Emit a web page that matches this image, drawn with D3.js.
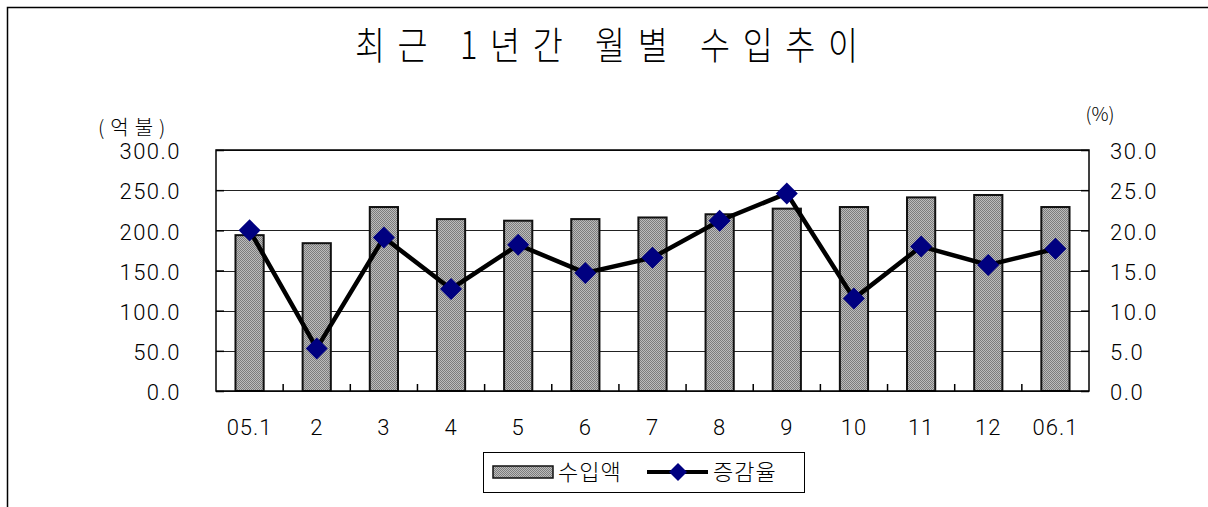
<!DOCTYPE html>
<html><head><meta charset="utf-8">
<script src="https://cdn.jsdelivr.net/npm/d3@7"></script>
<style>body{margin:0;background:#fff;} svg{display:block}</style>
</head><body><svg id="c" width="1208" height="507"></svg>
<script>
const categories = ["05.1","2","3","4","5","6","7","8","9","10","11","12","06.1"];
const importValues = [194,184,229,214,212,214,216,220,227,229,241,244,229];
const growthRates = [20.0,5.3,19.1,12.7,18.2,14.7,16.6,21.2,24.6,11.5,18.0,15.7,17.7];
const leftTicks = [0,50,100,150,200,250,300];
const rightTicks = [0,5,10,15,20,25,30];
const titleText = "최근 1년간 월별 수입추이";
const leftUnit = "(억불)";
const rightUnit = "(%)";
const seriesNames = ["수입액","증감율"];

const KR = "'Noto Sans CJK KR', sans-serif";
const NUM = "Roboto, 'Liberation Sans', Arial, sans-serif";
const svg = d3.select("#c");
const m = {l:216, r:1089, t:150, b:391};
const x = d3.scaleBand().domain(categories).range([m.l, m.r]).paddingInner(0).paddingOuter(0);
const yL = d3.scaleLinear().domain([0,300]).range([m.b, m.t]);
const yR = d3.scaleLinear().domain([0,30]).range([m.b, m.t]);

// pattern
const defs = svg.append("defs");
const pat = defs.append("pattern").attr("id","dots").attr("width",2).attr("height",2).attr("patternUnits","userSpaceOnUse");
pat.append("rect").attr("width",2).attr("height",2).attr("fill","#bcbcbc");
pat.append("rect").attr("x",0).attr("y",0).attr("width",1).attr("height",1).attr("fill","#7c7c7c");
pat.append("rect").attr("x",1).attr("y",1).attr("width",1).attr("height",1).attr("fill","#7c7c7c");

// outer border
svg.append("path").attr("d","M7.5,510 L7.5,7.5 L1210,7.5").attr("fill","none").attr("stroke","#000").attr("stroke-width",1.5);

// title (condensed glyphs, spread across the measured width)
svg.append("text").attr("transform","translate(355,59) scale(0.86,1)").attr("x",0).attr("y",0)
  .attr("textLength",503/0.86).attr("lengthAdjust","spacing")
  .attr("font-family",KR).attr("font-size",38).attr("font-weight",300).attr("fill","#000").text(titleText);

// gridlines
const gridAxis = d3.axisLeft(yL).tickValues(leftTicks).tickSize(-(m.r-m.l)).tickFormat("");
const gg = svg.append("g").attr("transform",`translate(${m.l},0)`).call(gridAxis);
gg.select(".domain").remove();
gg.selectAll("line").attr("stroke","#222").attr("stroke-width",1).attr("shape-rendering","crispEdges");

// bars
const bw = x.bandwidth()*0.42;
svg.append("g").selectAll("rect").data(categories).join("rect")
  .attr("x",(d)=>x(d)+(x.bandwidth()-bw)/2)
  .attr("y",(d,i)=>yL(importValues[i]))
  .attr("width",bw)
  .attr("height",(d,i)=>m.b-yL(importValues[i]))
  .attr("fill","url(#dots)").attr("stroke","#111").attr("stroke-width",2);

// plot border
svg.append("rect").attr("x",m.l).attr("y",m.t).attr("width",m.r-m.l).attr("height",m.b-m.t)
  .attr("fill","none").attr("stroke","#000").attr("stroke-width",1.5);

// bottom axis labels + inward ticks at band boundaries
const bAxis = d3.axisBottom(x).tickSize(0).tickFormat(d=>d);
const bg = svg.append("g").attr("transform",`translate(0,${m.b})`).call(bAxis);
bg.select(".domain").remove();
bg.selectAll("text").attr("y",36).attr("dy","0.36em").attr("font-family",NUM).attr("font-weight",300).attr("font-size",22)
  .attr("letter-spacing",1).attr("fill","#000");
svg.append("g").selectAll("line").data(categories.slice(1)).join("line")
  .attr("x1",d=>x(d)).attr("x2",d=>x(d)).attr("y1",m.b).attr("y2",m.b-7)
  .attr("stroke","#000").attr("stroke-width",1.5);

// left axis labels
const lAxis = d3.axisLeft(yL).tickValues(leftTicks).tickSize(8).tickPadding(28).tickFormat(d3.format(".1f"));
const lg = svg.append("g").attr("transform",`translate(${m.l},0)`).call(lAxis);
lg.select(".domain").remove();
lg.selectAll("line").attr("x2",8).attr("stroke","#000").attr("stroke-width",1.5);
lg.selectAll("text").attr("x",-35).attr("dy","0.4em").attr("font-family",NUM).attr("font-weight",300).attr("font-size",22).attr("letter-spacing",1.5).attr("fill","#000");

// right axis labels
const rAxis = d3.axisRight(yR).tickValues(rightTicks).tickSize(8).tickPadding(20).tickFormat(d3.format(".1f"));
const rg = svg.append("g").attr("transform",`translate(${m.r},0)`).call(rAxis);
rg.select(".domain").remove();
rg.selectAll("line").attr("x2",-8).attr("stroke","#000").attr("stroke-width",1.5);
rg.selectAll("text").attr("x",21).attr("dy","0.4em").attr("font-family",NUM).attr("font-weight",300).attr("font-size",22).attr("letter-spacing",1.5).attr("fill","#000");

// units
svg.append("text").attr("x",98).attr("y",135).attr("font-family",KR).attr("font-weight",300).attr("font-size",20).attr("letter-spacing",6).text(leftUnit);
svg.append("text").attr("x",1100).attr("y",121).attr("text-anchor","middle").attr("font-family",KR).attr("font-weight",300).attr("font-size",19).text(rightUnit);

// line
const cx = d => x(d)+x.bandwidth()/2;
const line = d3.line().x((d,i)=>cx(categories[i])).y(d=>yR(d));
svg.append("path").datum(growthRates).attr("d",line).attr("fill","none").attr("stroke","#000").attr("stroke-width",4.5).attr("stroke-linejoin","miter");
const diamond = d3.symbol().type(d3.symbolSquare).size(242);
svg.append("g").selectAll("path").data(growthRates).join("path")
  .attr("d",diamond).attr("transform",(d,i)=>`translate(${cx(categories[i])},${yR(d)}) rotate(45)`)
  .attr("fill","#000080");

// legend
const lgd = svg.append("g");
lgd.append("rect").attr("x",483.5).attr("y",452.5).attr("width",321).attr("height",40).attr("fill","#fff").attr("stroke","#000").attr("stroke-width",1);
lgd.append("rect").attr("x",493).attr("y",466).attr("width",60).attr("height",12).attr("fill","url(#dots)").attr("stroke","#111").attr("stroke-width",1.5);
lgd.append("text").attr("x",558).attr("y",472).attr("dy","0.36em").attr("font-family",KR).attr("font-weight",300).attr("font-size",22).attr("letter-spacing",1).text(seriesNames[0]);
lgd.append("line").attr("x1",647).attr("x2",708).attr("y1",472).attr("y2",472).attr("stroke","#000").attr("stroke-width",4);
lgd.append("path").attr("d",d3.symbol().type(d3.symbolSquare).size(162)).attr("transform","translate(678,472) rotate(45)").attr("fill","#000080");
lgd.append("text").attr("x",713).attr("y",472).attr("dy","0.36em").attr("font-family",KR).attr("font-weight",300).attr("font-size",22).attr("letter-spacing",1).text(seriesNames[1]);
</script></body></html>
